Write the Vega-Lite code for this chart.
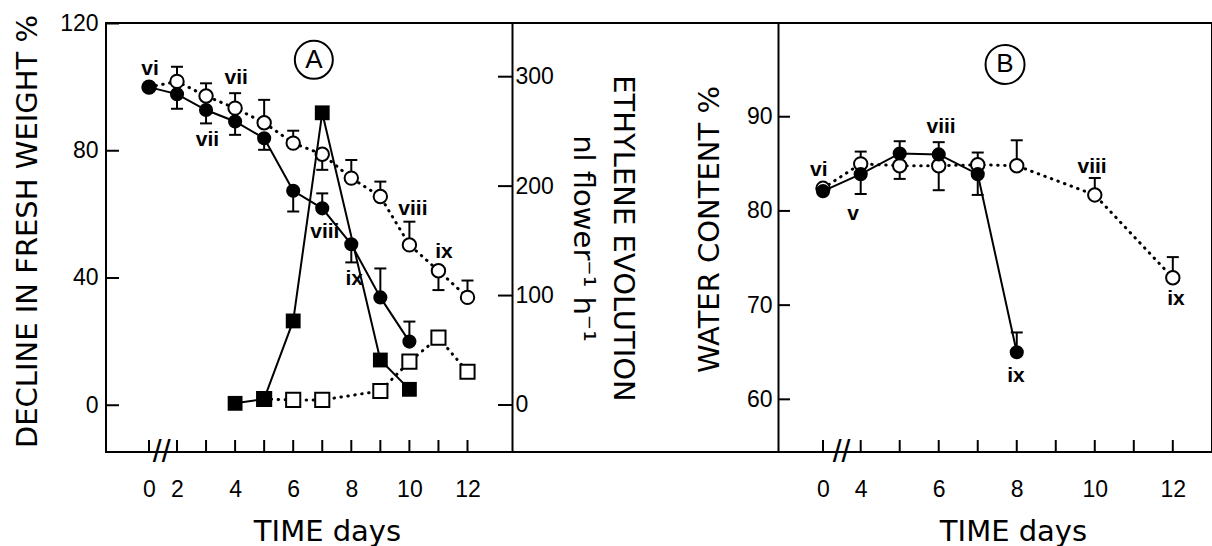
{
  "$schema": "https://vega.github.io/schema/vega-lite/v6.json",
  "width": 1106,
  "height": 429,
  "autosize": {"type": "none"},
  "padding": {"left": 106, "top": 23, "right": 0, "bottom": 94},
  "background": "white",
  "config": {
    "view": {"stroke": "black", "strokeWidth": 2},
    "axis": {
      "grid": false, "ticks": false, "labelColor": "black", "titleColor": "black", "domainColor": "black",
      "labelFont": "Liberation Sans", "labelFontSize": 23, "titleFont": "DejaVu Sans", "titleFontSize": 29,
      "titleFontWeight": "normal", "domainWidth": 2, "labelOverlap": false, "labelFlush": false, "format": "d"
    }
  },
  "datasets": {
    "fw": [
      {"day": 0, "val": 100, "err": null, "s": "filled"},
      {"day": 2, "val": 97.8, "err": 93.2, "s": "filled"},
      {"day": 3, "val": 92.8, "err": 88.6, "s": "filled"},
      {"day": 4, "val": 89.2, "err": 85.0, "s": "filled"},
      {"day": 5, "val": 83.9, "err": 80.3, "s": "filled"},
      {"day": 6, "val": 67.4, "err": 60.9, "s": "filled"},
      {"day": 7, "val": 61.9, "err": 66.6, "s": "filled"},
      {"day": 8, "val": 50.6, "err": 44.9, "s": "filled"},
      {"day": 9, "val": 33.9, "err": 43.0, "s": "filled"},
      {"day": 10, "val": 20.0, "err": 26.3, "s": "filled"},
      {"day": 0, "val": 100, "err": null, "s": "open"},
      {"day": 2, "val": 101.8, "err": 106.4, "s": "open"},
      {"day": 3, "val": 97.2, "err": 101.2, "s": "open"},
      {"day": 4, "val": 93.4, "err": 98.1, "s": "open"},
      {"day": 5, "val": 88.8, "err": 96.0, "s": "open"},
      {"day": 6, "val": 82.4, "err": 86.3, "s": "open"},
      {"day": 7, "val": 78.9, "err": 74.0, "s": "open"},
      {"day": 8, "val": 71.4, "err": 77.1, "s": "open"},
      {"day": 9, "val": 65.6, "err": 70.3, "s": "open"},
      {"day": 10, "val": 50.4, "err": 57.7, "s": "open"},
      {"day": 11, "val": 42.3, "err": 36.2, "s": "open"},
      {"day": 12, "val": 33.9, "err": 39.2, "s": "open"}
    ],
    "eth": [
      {"day": 4, "val": 1.5, "s": "filled"},
      {"day": 5, "val": 5.5, "s": "filled"},
      {"day": 6, "val": 76.8, "s": "filled"},
      {"day": 7, "val": 267, "s": "filled"},
      {"day": 9, "val": 41.1, "s": "filled"},
      {"day": 10, "val": 14.3, "s": "filled"},
      {"day": 5, "val": 5.5, "s": "open"},
      {"day": 6, "val": 4.6, "s": "open"},
      {"day": 7, "val": 4.6, "s": "open"},
      {"day": 9, "val": 12.8, "s": "open"},
      {"day": 10, "val": 39.6, "s": "open"},
      {"day": 11, "val": 61.5, "s": "open"},
      {"day": 12, "val": 30.4, "s": "open"}
    ],
    "wc": [
      {"day": 0, "val": 82.1, "err": null, "s": "filled"},
      {"day": 4, "val": 83.9, "err": 81.8, "s": "filled"},
      {"day": 5, "val": 86.1, "err": 87.4, "s": "filled"},
      {"day": 6, "val": 86.0, "err": 87.3, "s": "filled"},
      {"day": 7, "val": 83.9, "err": 81.7, "s": "filled"},
      {"day": 8, "val": 65.0, "err": 67.1, "s": "filled"},
      {"day": 0, "val": 82.4, "err": null, "s": "open"},
      {"day": 4, "val": 85.0, "err": 86.3, "s": "open"},
      {"day": 5, "val": 84.8, "err": 83.4, "s": "open"},
      {"day": 6, "val": 84.8, "err": 82.2, "s": "open"},
      {"day": 7, "val": 84.9, "err": 86.2, "s": "open"},
      {"day": 8, "val": 84.8, "err": 87.5, "s": "open"},
      {"day": 10, "val": 81.7, "err": 83.5, "s": "open"},
      {"day": 12, "val": 72.9, "err": 75.1, "s": "open"}
    ],
    "la": [
      {"day": 0.07, "val": 105.7, "t": "vi"},
      {"day": 4.04, "val": 102.8, "t": "vii"},
      {"day": 3.05, "val": 83.4, "t": "vii"},
      {"day": 7.09, "val": 54.6, "t": "viii"},
      {"day": 8.1, "val": 39.6, "t": "ix"},
      {"day": 10.12, "val": 61.6, "t": "viii"},
      {"day": 11.19, "val": 48.1, "t": "ix"}
    ],
    "lb": [
      {"day": -0.44, "val": 84.3, "t": "vi"},
      {"day": 3.2, "val": 79.7, "t": "v"},
      {"day": 6.06, "val": 88.9, "t": "viii"},
      {"day": 7.98, "val": 62.5, "t": "ix"},
      {"day": 9.93, "val": 84.7, "t": "viii"},
      {"day": 12.08, "val": 70.7, "t": "ix"}
    ],
    "pa": [{"day": 6.71, "val": 108.6, "t": "A", "brk": 0.91, "bot": -14.7}],
    "pb": [{"day": 7.7, "val": 95.55, "t": "B", "brk": 1.97, "bot": 54.41}],
    "tka": [
      {"d": 0, "y0": -14.7, "y1": -10.93}, {"d": 2, "y0": -14.7, "y1": -10.93}, {"d": 3, "y0": -14.7, "y1": -10.93},
      {"d": 4, "y0": -14.7, "y1": -10.93}, {"d": 5, "y0": -14.7, "y1": -10.93}, {"d": 6, "y0": -14.7, "y1": -10.93},
      {"d": 7, "y0": -14.7, "y1": -10.93}, {"d": 8, "y0": -14.7, "y1": -10.93}, {"d": 9, "y0": -14.7, "y1": -10.93},
      {"d": 10, "y0": -14.7, "y1": -10.93}, {"d": 11, "y0": -14.7, "y1": -10.93}, {"d": 12, "y0": -14.7, "y1": -10.93}
    ],
    "tkb": [
      {"d": 0, "y0": 54.41, "y1": 55.68}, {"d": 4, "y0": 54.41, "y1": 55.68}, {"d": 5, "y0": 54.41, "y1": 55.68},
      {"d": 6, "y0": 54.41, "y1": 55.68}, {"d": 7, "y0": 54.41, "y1": 55.68}, {"d": 8, "y0": 54.41, "y1": 55.68},
      {"d": 9, "y0": 54.41, "y1": 55.68}, {"d": 10, "y0": 54.41, "y1": 55.68}, {"d": 11, "y0": 54.41, "y1": 55.68},
      {"d": 12, "y0": 54.41, "y1": 55.68}
    ],
    "tya": [{"v": 0, "x0": -3.0714, "x1": -2.143}, {"v": 40, "x0": -3.0714, "x1": -2.143}, {"v": 80, "x0": -3.0714, "x1": -2.143}, {"v": 120, "x0": -3.0714, "x1": -2.143}],
    "tye": [{"v": 0, "x0": 13.05, "x1": 13.532}, {"v": 100, "x0": 13.05, "x1": 13.532}, {"v": 200, "x0": 13.05, "x1": 13.532}, {"v": 300, "x0": 13.05, "x1": 13.532}],
    "tyb": [{"v": 60, "x0": -4.775, "x1": -3.501}, {"v": 70, "x0": -4.775, "x1": -3.501}, {"v": 80, "x0": -4.775, "x1": -3.501}, {"v": 90, "x0": -4.775, "x1": -3.501}]
  },
  "layer": [
    {
      "layer": [
        {
          "layer": [
            {
              "data": {"name": "fw"},
              "transform": [{"filter": "datum.s == 'filled'"}],
              "mark": {"type": "line", "color": "black", "strokeWidth": 2},
              "encoding": {
                "x": {"field": "day", "type": "quantitative", "scale": {"domain": [0, 2, 12], "range": [43, 71, 361.5], "nice": false, "zero": false},
                  "axis": {"orient": "bottom", "values": [0, 2, 4, 6, 8, 10, 12], "domain": false, "labelPadding": 26, "title": "TIME days", "titleX": 221, "titleY": 88, "titleAlign": "center", "titleBaseline": "alphabetic"}},
                "y": {"field": "val", "type": "quantitative", "scale": {"domain": [-14.7, 120.16], "nice": false, "zero": false},
                  "axis": {"orient": "left", "values": [0, 40, 80, 120], "domain": false, "labelPadding": 8, "title": "DECLINE IN FRESH WEIGHT %", "titleAngle": -90, "titleX": -79, "titleY": 208, "titleAlign": "center", "titleBaseline": "middle"}}
              }
            },
            {
              "data": {"name": "tka"},
              "mark": {"type": "rule", "color": "black", "strokeWidth": 2},
              "encoding": {
                "x": {"field": "d", "type": "quantitative", "scale": {"domain": [0, 2, 12], "range": [43, 71, 361.5], "nice": false, "zero": false}},
                "y": {"field": "y0", "type": "quantitative", "scale": {"domain": [-14.7, 120.16], "nice": false, "zero": false}},
                "y2": {"field": "y1"}
              }
            },
            {
              "data": {"name": "tya"},
              "mark": {"type": "rule", "color": "black", "strokeWidth": 2},
              "encoding": {
                "x": {"field": "x0", "type": "quantitative", "scale": {"domain": [0, 2, 12], "range": [43, 71, 361.5], "nice": false, "zero": false}},
                "x2": {"field": "x1"},
                "y": {"field": "v", "type": "quantitative", "scale": {"domain": [-14.7, 120.16], "nice": false, "zero": false}}
              }
            },
            {
              "data": {"name": "fw"},
              "transform": [{"filter": "datum.s == 'open'"}],
              "mark": {"type": "line", "color": "black", "strokeWidth": 3, "strokeDash": [0.5, 6.5], "strokeCap": "round"},
              "encoding": {
                "x": {"field": "day", "type": "quantitative", "scale": {"domain": [0, 2, 12], "range": [43, 71, 361.5], "nice": false, "zero": false}},
                "y": {"field": "val", "type": "quantitative", "scale": {"domain": [-14.7, 120.16], "nice": false, "zero": false}}
              }
            },
            {
              "data": {"name": "fw"},
              "transform": [{"filter": "datum.err != null"}],
              "mark": {"type": "rule", "color": "black", "strokeWidth": 2},
              "encoding": {
                "x": {"field": "day", "type": "quantitative", "scale": {"domain": [0, 2, 12], "range": [43, 71, 361.5], "nice": false, "zero": false}},
                "y": {"field": "val", "type": "quantitative", "scale": {"domain": [-14.7, 120.16], "nice": false, "zero": false}},
                "y2": {"field": "err"}
              }
            },
            {
              "data": {"name": "fw"},
              "transform": [{"filter": "datum.err != null"}],
              "mark": {"type": "tick", "orient": "horizontal", "color": "black", "thickness": 2, "size": 12, "opacity": 1},
              "encoding": {
                "x": {"field": "day", "type": "quantitative", "scale": {"domain": [0, 2, 12], "range": [43, 71, 361.5], "nice": false, "zero": false}},
                "y": {"field": "err", "type": "quantitative", "scale": {"domain": [-14.7, 120.16], "nice": false, "zero": false}}
              }
            },
            {
              "data": {"name": "fw"},
              "transform": [{"filter": "datum.s == 'open'"}],
              "mark": {"type": "point", "shape": "circle", "filled": true, "fill": "white", "stroke": "black", "strokeWidth": 2, "size": 180, "opacity": 1},
              "encoding": {
                "x": {"field": "day", "type": "quantitative", "scale": {"domain": [0, 2, 12], "range": [43, 71, 361.5], "nice": false, "zero": false}},
                "y": {"field": "val", "type": "quantitative", "scale": {"domain": [-14.7, 120.16], "nice": false, "zero": false}}
              }
            },
            {
              "data": {"name": "fw"},
              "transform": [{"filter": "datum.s == 'filled'"}],
              "mark": {"type": "point", "shape": "circle", "filled": true, "color": "black", "size": 200, "opacity": 1},
              "encoding": {
                "x": {"field": "day", "type": "quantitative", "scale": {"domain": [0, 2, 12], "range": [43, 71, 361.5], "nice": false, "zero": false}},
                "y": {"field": "val", "type": "quantitative", "scale": {"domain": [-14.7, 120.16], "nice": false, "zero": false}}
              }
            },
            {
              "data": {"name": "la"},
              "mark": {"type": "text", "font": "Liberation Sans", "fontWeight": "bold", "fontSize": 21, "color": "black", "align": "center", "baseline": "middle"},
              "encoding": {
                "x": {"field": "day", "type": "quantitative", "scale": {"domain": [0, 2, 12], "range": [43, 71, 361.5], "nice": false, "zero": false}},
                "y": {"field": "val", "type": "quantitative", "scale": {"domain": [-14.7, 120.16], "nice": false, "zero": false}},
                "text": {"field": "t"}
              }
            },
            {
              "data": {"name": "pa"},
              "mark": {"type": "point", "shape": "circle", "filled": false, "stroke": "black", "strokeWidth": 2, "size": 1444, "opacity": 1},
              "encoding": {
                "x": {"field": "day", "type": "quantitative", "scale": {"domain": [0, 2, 12], "range": [43, 71, 361.5], "nice": false, "zero": false}},
                "y": {"field": "val", "type": "quantitative", "scale": {"domain": [-14.7, 120.16], "nice": false, "zero": false}}
              }
            },
            {
              "data": {"name": "pa"},
              "mark": {"type": "text", "font": "Liberation Sans", "fontSize": 26, "color": "black", "align": "center", "baseline": "middle"},
              "encoding": {
                "x": {"field": "day", "type": "quantitative", "scale": {"domain": [0, 2, 12], "range": [43, 71, 361.5], "nice": false, "zero": false}},
                "y": {"field": "val", "type": "quantitative", "scale": {"domain": [-14.7, 120.16], "nice": false, "zero": false}},
                "text": {"field": "t"}
              }
            },
            {
              "data": {"name": "pa"},
              "mark": {"type": "text", "text": "//", "font": "Liberation Sans", "fontSize": 32, "color": "black", "align": "center", "baseline": "middle"},
              "encoding": {
                "x": {"field": "brk", "type": "quantitative", "scale": {"domain": [0, 2, 12], "range": [43, 71, 361.5], "nice": false, "zero": false}},
                "y": {"field": "bot", "type": "quantitative", "scale": {"domain": [-14.7, 120.16], "nice": false, "zero": false}}
              }
            }
          ]
        },
        {
          "layer": [
            {
              "data": {"name": "eth"},
              "transform": [{"filter": "datum.s == 'filled'"}],
              "mark": {"type": "line", "color": "black", "strokeWidth": 2},
              "encoding": {
                "x": {"field": "day", "type": "quantitative", "scale": {"domain": [0, 2, 12], "range": [43, 71, 361.5], "nice": false, "zero": false}},
                "y": {"field": "val", "type": "quantitative", "scale": {"domain": [-42.97, 349.07], "nice": false, "zero": false},
                  "axis": {"orient": "right", "offset": -700, "values": [0, 100, 200, 300], "domain": true, "labelPadding": 3, "title": ["ETHYLENE EVOLUTION", "nl flower⁻¹ h⁻¹"], "titleAngle": 90, "titleX": 110, "titleY": 215, "titleAlign": "center", "titleBaseline": "middle", "titleLineHeight": 40}}
              }
            },
            {
              "data": {"name": "tye"},
              "mark": {"type": "rule", "color": "black", "strokeWidth": 2},
              "encoding": {
                "x": {"field": "x0", "type": "quantitative", "scale": {"domain": [0, 2, 12], "range": [43, 71, 361.5], "nice": false, "zero": false}},
                "x2": {"field": "x1"},
                "y": {"field": "v", "type": "quantitative", "scale": {"domain": [-42.97, 349.07], "nice": false, "zero": false}}
              }
            },
            {
              "data": {"name": "eth"},
              "transform": [{"filter": "datum.s == 'open'"}],
              "mark": {"type": "line", "color": "black", "strokeWidth": 3, "strokeDash": [0.5, 6.5], "strokeCap": "round"},
              "encoding": {
                "x": {"field": "day", "type": "quantitative", "scale": {"domain": [0, 2, 12], "range": [43, 71, 361.5], "nice": false, "zero": false}},
                "y": {"field": "val", "type": "quantitative", "scale": {"domain": [-42.97, 349.07], "nice": false, "zero": false}}
              }
            },
            {
              "data": {"name": "eth"},
              "transform": [{"filter": "datum.s == 'open'"}],
              "mark": {"type": "point", "shape": "square", "filled": true, "fill": "white", "stroke": "black", "strokeWidth": 2, "size": 200, "opacity": 1},
              "encoding": {
                "x": {"field": "day", "type": "quantitative", "scale": {"domain": [0, 2, 12], "range": [43, 71, 361.5], "nice": false, "zero": false}},
                "y": {"field": "val", "type": "quantitative", "scale": {"domain": [-42.97, 349.07], "nice": false, "zero": false}}
              }
            },
            {
              "data": {"name": "eth"},
              "transform": [{"filter": "datum.s == 'filled'"}],
              "mark": {"type": "point", "shape": "square", "filled": true, "color": "black", "size": 220, "opacity": 1},
              "encoding": {
                "x": {"field": "day", "type": "quantitative", "scale": {"domain": [0, 2, 12], "range": [43, 71, 361.5], "nice": false, "zero": false}},
                "y": {"field": "val", "type": "quantitative", "scale": {"domain": [-42.97, 349.07], "nice": false, "zero": false}}
              }
            }
          ]
        }
      ],
      "resolve": {"scale": {"y": "independent"}, "axis": {"y": "independent"}}
    },
    {
      "layer": [
        {
          "data": {"name": "wc"},
          "transform": [{"filter": "datum.s == 'filled'"}],
          "mark": {"type": "line", "color": "black", "strokeWidth": 2},
          "encoding": {
            "x": {"field": "day", "type": "quantitative", "scale": {"domain": [0, 4, 12], "range": [717, 754.7, 1066.8], "nice": false, "zero": false},
              "axis": {"orient": "bottom", "values": [0, 4, 6, 8, 10, 12], "domain": false, "labelPadding": 26, "title": "TIME days", "titleX": 907, "titleY": 88, "titleAlign": "center", "titleBaseline": "alphabetic"}},
            "y": {"field": "val", "type": "quantitative", "scale": {"domain": [54.41, 99.95], "nice": false, "zero": false},
              "axis": {"orient": "left", "offset": -672, "values": [60, 70, 80, 90], "domain": true, "labelPadding": 6, "title": "WATER CONTENT %", "titleAngle": -90, "titleX": -69, "titleY": 206, "titleAlign": "center", "titleBaseline": "middle"}}
          }
        },
        {
          "data": {"name": "tkb"},
          "mark": {"type": "rule", "color": "black", "strokeWidth": 2},
          "encoding": {
            "x": {"field": "d", "type": "quantitative", "scale": {"domain": [0, 4, 12], "range": [717, 754.7, 1066.8], "nice": false, "zero": false}},
            "y": {"field": "y0", "type": "quantitative", "scale": {"domain": [54.41, 99.95], "nice": false, "zero": false}},
            "y2": {"field": "y1"}
          }
        },
        {
          "data": {"name": "tyb"},
          "mark": {"type": "rule", "color": "black", "strokeWidth": 2},
          "encoding": {
            "x": {"field": "x0", "type": "quantitative", "scale": {"domain": [0, 4, 12], "range": [717, 754.7, 1066.8], "nice": false, "zero": false}},
            "x2": {"field": "x1"},
            "y": {"field": "v", "type": "quantitative", "scale": {"domain": [54.41, 99.95], "nice": false, "zero": false}}
          }
        },
        {
          "data": {"name": "wc"},
          "transform": [{"filter": "datum.s == 'open'"}],
          "mark": {"type": "line", "color": "black", "strokeWidth": 3, "strokeDash": [0.5, 6.5], "strokeCap": "round"},
          "encoding": {
            "x": {"field": "day", "type": "quantitative", "scale": {"domain": [0, 4, 12], "range": [717, 754.7, 1066.8], "nice": false, "zero": false}},
            "y": {"field": "val", "type": "quantitative", "scale": {"domain": [54.41, 99.95], "nice": false, "zero": false}}
          }
        },
        {
          "data": {"name": "wc"},
          "transform": [{"filter": "datum.err != null"}],
          "mark": {"type": "rule", "color": "black", "strokeWidth": 2},
          "encoding": {
            "x": {"field": "day", "type": "quantitative", "scale": {"domain": [0, 4, 12], "range": [717, 754.7, 1066.8], "nice": false, "zero": false}},
            "y": {"field": "val", "type": "quantitative", "scale": {"domain": [54.41, 99.95], "nice": false, "zero": false}},
            "y2": {"field": "err"}
          }
        },
        {
          "data": {"name": "wc"},
          "transform": [{"filter": "datum.err != null"}],
          "mark": {"type": "tick", "orient": "horizontal", "color": "black", "thickness": 2, "size": 12, "opacity": 1},
          "encoding": {
            "x": {"field": "day", "type": "quantitative", "scale": {"domain": [0, 4, 12], "range": [717, 754.7, 1066.8], "nice": false, "zero": false}},
            "y": {"field": "err", "type": "quantitative", "scale": {"domain": [54.41, 99.95], "nice": false, "zero": false}}
          }
        },
        {
          "data": {"name": "wc"},
          "transform": [{"filter": "datum.s == 'open'"}],
          "mark": {"type": "point", "shape": "circle", "filled": true, "fill": "white", "stroke": "black", "strokeWidth": 2, "size": 180, "opacity": 1},
          "encoding": {
            "x": {"field": "day", "type": "quantitative", "scale": {"domain": [0, 4, 12], "range": [717, 754.7, 1066.8], "nice": false, "zero": false}},
            "y": {"field": "val", "type": "quantitative", "scale": {"domain": [54.41, 99.95], "nice": false, "zero": false}}
          }
        },
        {
          "data": {"name": "wc"},
          "transform": [{"filter": "datum.s == 'filled'"}],
          "mark": {"type": "point", "shape": "circle", "filled": true, "color": "black", "size": 200, "opacity": 1},
          "encoding": {
            "x": {"field": "day", "type": "quantitative", "scale": {"domain": [0, 4, 12], "range": [717, 754.7, 1066.8], "nice": false, "zero": false}},
            "y": {"field": "val", "type": "quantitative", "scale": {"domain": [54.41, 99.95], "nice": false, "zero": false}}
          }
        },
        {
          "data": {"name": "lb"},
          "mark": {"type": "text", "font": "Liberation Sans", "fontWeight": "bold", "fontSize": 21, "color": "black", "align": "center", "baseline": "middle"},
          "encoding": {
            "x": {"field": "day", "type": "quantitative", "scale": {"domain": [0, 4, 12], "range": [717, 754.7, 1066.8], "nice": false, "zero": false}},
            "y": {"field": "val", "type": "quantitative", "scale": {"domain": [54.41, 99.95], "nice": false, "zero": false}},
            "text": {"field": "t"}
          }
        },
        {
          "data": {"name": "pb"},
          "mark": {"type": "point", "shape": "circle", "filled": false, "stroke": "black", "strokeWidth": 2, "size": 1521, "opacity": 1},
          "encoding": {
            "x": {"field": "day", "type": "quantitative", "scale": {"domain": [0, 4, 12], "range": [717, 754.7, 1066.8], "nice": false, "zero": false}},
            "y": {"field": "val", "type": "quantitative", "scale": {"domain": [54.41, 99.95], "nice": false, "zero": false}}
          }
        },
        {
          "data": {"name": "pb"},
          "mark": {"type": "text", "font": "Liberation Sans", "fontSize": 26, "color": "black", "align": "center", "baseline": "middle"},
          "encoding": {
            "x": {"field": "day", "type": "quantitative", "scale": {"domain": [0, 4, 12], "range": [717, 754.7, 1066.8], "nice": false, "zero": false}},
            "y": {"field": "val", "type": "quantitative", "scale": {"domain": [54.41, 99.95], "nice": false, "zero": false}},
            "text": {"field": "t"}
          }
        },
        {
          "data": {"name": "pb"},
          "mark": {"type": "text", "text": "//", "font": "Liberation Sans", "fontSize": 32, "color": "black", "align": "center", "baseline": "middle"},
          "encoding": {
            "x": {"field": "brk", "type": "quantitative", "scale": {"domain": [0, 4, 12], "range": [717, 754.7, 1066.8], "nice": false, "zero": false}},
            "y": {"field": "bot", "type": "quantitative", "scale": {"domain": [54.41, 99.95], "nice": false, "zero": false}}
          }
        }
      ]
    }
  ],
  "resolve": {"scale": {"x": "independent", "y": "independent"}, "axis": {"x": "independent", "y": "independent"}}
}
